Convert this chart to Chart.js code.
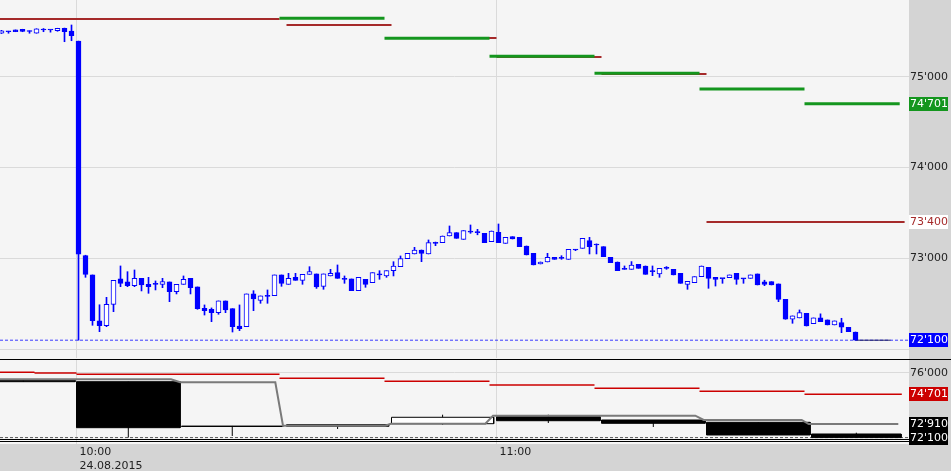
<!DOCTYPE html>
<html>
<head>
<meta charset="utf-8">
<script src="https://cdn.jsdelivr.net/npm/chart.js@4.4.0/dist/chart.umd.min.js"></script>
<style>
  html, body { margin: 0; padding: 0; background: #d4d4d4; }
  #wrap { position: relative; width: 951px; height: 471px; overflow: hidden; }
  #top { position: absolute; left: 0; top: 0; }
  #bottom { position: absolute; left: 0; top: 358px; }
</style>
</head>
<body>
<div id="wrap">
  <canvas id="top" width="951" height="358"></canvas>
  <canvas id="bottom" width="951" height="113"></canvas>
</div>
<script>
// 1-minute candles, 24.08.2015, first candle 09:49 (minutes since midnight)
const FIRST_MINUTE = 589;

const OPEN = [
  75480, 75495, 75515, 75520, 75505, 75478, 75514, 75514, 75506, 75533,
  75503, 75393, 73030, 72818, 72312, 72260, 72495, 72774, 72741, 72700,
  72781, 72715, 72715, 72715, 72741, 72634, 72715, 72781, 72686, 72451,
  72440, 72403, 72532, 72447, 72256, 72249, 72609, 72539, 72594, 72590,
  72818, 72715, 72792, 72759, 72825, 72829, 72693, 72807, 72843, 72770,
  72774, 72645, 72770, 72733, 72818, 72807, 72865, 72909, 72997, 73049,
  73093, 73049, 73166, 73173, 73247, 73284, 73210, 73302, 73284, 73276,
  73184, 73287, 73166, 73239, 73232, 73137, 73056, 72939, 72961, 73012,
  73000, 72990, 73093, 73111, 73195, 73148, 73129, 73012, 72961, 72880,
  72880, 72935, 72917, 72854, 72829, 72891, 72880, 72836, 72715, 72733,
  72799, 72902, 72792, 72777, 72788, 72836, 72774, 72781, 72829, 72741,
  72744, 72719, 72550, 72330, 72345, 72396, 72282, 72345, 72323, 72268,
  72293, 72242, 72190
];
const HIGH = [
  75510, 75500, 75515, 75522, 75505, 75528, 75530, 75516, 75533, 75535,
  75569, 75393, 73035, 72818, 72490, 72572, 72759, 72917, 72854, 72873,
  72781, 72792, 72752, 72781, 72741, 72715, 72807, 72781, 72686, 72488,
  72455, 72532, 72532, 72447, 72488, 72609, 72645, 72587, 72653, 72818,
  72818, 72836, 72836, 72825, 72909, 72829, 72829, 72880, 72928, 72807,
  72774, 72792, 72770, 72843, 72865, 72865, 72964, 73027, 73056, 73122,
  73093, 73203, 73180, 73247, 73357, 73284, 73306, 73368, 73320, 73276,
  73302, 73379, 73232, 73239, 73232, 73137, 73056, 72961, 73056, 73012,
  73030, 73100, 73100, 73221, 73232, 73160, 73129, 73012, 72961, 72917,
  72965, 72935, 72917, 72917, 72891, 72910, 72880, 72836, 72748, 72799,
  72917, 72902, 72792, 72780, 72818, 72836, 72780, 72818, 72829, 72760,
  72744, 72719, 72550, 72367, 72433, 72396, 72345, 72390, 72323, 72312,
  72341, 72242, 72190
];
const LOW = [
  75475, 75478, 75495, 75495, 75478, 75478, 75495, 75490, 75500, 75385,
  75396, 72100, 72792, 72264, 72194, 72249, 72414, 72689, 72689, 72689,
  72642, 72616, 72653, 72678, 72524, 72609, 72715, 72609, 72440, 72377,
  72304, 72385, 72403, 72190, 72205, 72249, 72425, 72506, 72506, 72590,
  72693, 72715, 72759, 72715, 72825, 72670, 72660, 72807, 72781, 72726,
  72645, 72645, 72682, 72733, 72770, 72792, 72807, 72909, 72997, 73049,
  72964, 73049, 73140, 73173, 73247, 73221, 73210, 73276, 73260, 73173,
  73184, 73173, 73166, 73214, 73129, 73038, 72928, 72939, 72961, 72990,
  72990, 72990, 73085, 73111, 73049, 73049, 73019, 72953, 72865, 72880,
  72880, 72891, 72825, 72810, 72792, 72880, 72818, 72726, 72660, 72733,
  72799, 72671, 72696, 72726, 72788, 72715, 72726, 72781, 72708, 72700,
  72708, 72524, 72330, 72286, 72345, 72256, 72282, 72304, 72268, 72268,
  72183, 72194, 72100
];
const CLOSE = [
  75505, 75495, 75495, 75497, 75497, 75528, 75514, 75514, 75533, 75495,
  75451, 73046, 72825, 72315, 72260, 72495, 72759, 72726, 72700, 72781,
  72708, 72689, 72715, 72744, 72634, 72715, 72770, 72678, 72447, 72425,
  72403, 72532, 72433, 72249, 72227, 72609, 72554, 72587, 72583, 72818,
  72726, 72781, 72759, 72825, 72854, 72686, 72829, 72836, 72781, 72770,
  72645, 72792, 72715, 72843, 72818, 72865, 72917, 72997, 73056, 73093,
  73056, 73173, 73166, 73247, 73284, 73221, 73306, 73290, 73284, 73173,
  73302, 73173, 73232, 73214, 73129, 73038, 72928, 72961, 73012, 72990,
  73000, 73100, 73093, 73221, 73129, 73148, 73019, 72953, 72865, 72880,
  72928, 72891, 72825, 72854, 72891, 72891, 72818, 72726, 72748, 72799,
  72917, 72781, 72770, 72777, 72818, 72770, 72774, 72818, 72708, 72715,
  72708, 72550, 72330, 72367, 72403, 72256, 72345, 72304, 72268, 72312,
  72242, 72194, 72100
];

// 15-minute level lines in the price panel
const GREEN_START = [629, 644, 659, 674, 689, 704];
const GREEN_END   = [644, 659, 674, 689, 704, 717.6];
const GREEN_LEVEL = [75642, 75422, 75224, 75037, 74865, 74701];
const RED_START = [585, 630, 645, 660, 675, 690];
const RED_END   = [629, 645, 660, 675, 690, 718.3];
const RED_LEVEL = [75634, 75568, 75425, 75216, 75030, 73400];

// lower panel: 15-minute bars
const BAR_START = [585, 600, 615, 630, 645, 660, 675, 690, 705];
const BAR_END   = [599.8, 614.8, 629.5, 644.6, 659.6, 674.8, 689.8, 704.8, 717.8];
const BAR_OPEN  = [75543, 75459, 72790, 72779, 72935, 73356, 73157, 73019, 72316];
const BAR_HIGH  = [75560, 75459, 72800, 72880, 73476, 73476, 73157, 73019, 72394];
const BAR_LOW   = [75440, 72100, 72196, 72616, 72857, 72977, 72737, 72256, 72100];
const BAR_CLOSE = [75459, 72695, 72770, 72875, 73320, 73115, 72959, 72256, 72100];

// lower panel: grey line and red step line
const GRAY_TIME  = [585, 613.5, 614.8, 628.4, 629.5, 644.1, 644.9, 658.4, 659.5, 688.4, 689.6, 703.6, 704.6, 717.4];
const GRAY_VALUE = [75603, 75603, 75423, 75423, 72815, 72815, 72935, 72935, 73416, 73416, 73157, 73157, 72910, 72910];
const LOW_RED_START = [585, 594, 600, 629, 644, 659, 674, 689, 704];
const LOW_RED_END   = [594, 600, 629, 644, 659, 674, 689, 704, 717.9];
const LOW_RED_LEVEL = [76024, 75982, 75904, 75663, 75483, 75261, 75062, 74882, 74701];

// axes
const X_TICKS = [600, 660];
const X_TICK_LABELS = [['10:00', '24.08.2015'], ['11:00']];
const TOP_TICKS = [72000, 73000, 74000, 75000];
const LOW_TICKS = [76000];

// ---------- layout constants ----------
const X_MIN = 589 + 0.5 / 7;
const X_MAX = X_MIN + 909 / 7;
const CANDLE_SHIFT = 2 / 7;
const TOP_MIN = 71904, TOP_MAX = 75844;
const LOW_MIN = 71715, LOW_MAX = 76763;

const BLUE = '#0000ff';
const GREEN = '#14961e';
const DARK_RED = '#a52a2a';
const RED = '#cc0000';
const GRID = '#dadada';
const FONT = { family: '"DejaVu Sans", Verdana, sans-serif', size: 11 };

const fmtPrice = (v) => String(Math.round(v)).replace(/\B(?=(\d{3})+(?!\d))/g, "'");

function steps(starts, ends, levels) {
  const pts = [];
  starts.forEach((s, i) => {
    pts.push({ x: s, y: levels[i] }, { x: ends[i], y: levels[i] }, { x: ends[i], y: null });
  });
  return pts;
}

function noPadding(s) {
  s.paddingTop = 0; s.paddingBottom = 0; s.paddingLeft = 0; s.paddingRight = 0;
}

// ---------- plugins ----------
const panelPlugin = {
  id: 'panel',
  beforeDraw(chart, args, opts) {
    const { ctx, chartArea: a, width, height } = chart;
    ctx.save();
    ctx.fillStyle = '#d4d4d4';
    ctx.fillRect(0, 0, width, height);
    ctx.fillStyle = '#f5f5f5';
    ctx.fillRect(0, 0, a.right, a.bottom);
    ctx.restore();
  },
  afterDatasetsDraw(chart, args, opts) {
    const { ctx, chartArea: a, width } = chart;
    ctx.save();
    ctx.fillStyle = '#000';
    for (const y of opts.fullLines || []) ctx.fillRect(0, y, width, 1);
    for (const y of opts.areaLines || []) ctx.fillRect(0, y, a.right, 1);
    ctx.restore();
  }
};

const badgePlugin = {
  id: 'badges',
  afterDraw(chart, args, opts) {
    const { ctx, chartArea: a } = chart;
    const yScale = chart.scales.y;
    ctx.save();
    ctx.font = '11px "DejaVu Sans"';
    ctx.textBaseline = 'middle';
    ctx.textAlign = 'left';
    for (const b of opts.items || []) {
      const py = Math.round(yScale.getPixelForValue(b.value));
      ctx.fillStyle = b.bg;
      ctx.fillRect(a.right, py - 7, 39, 14);
      ctx.fillStyle = b.fg;
      ctx.fillText(fmtPrice(b.value), a.right + 1, py + 0.5);
    }
    ctx.restore();
  }
};

Chart.register(panelPlugin, badgePlugin);

function xScale(showLabels) {
  return {
    type: 'linear', min: X_MIN, max: X_MAX, offset: false,
    afterBuildTicks: (s) => { s.ticks = X_TICKS.map(v => ({ value: v })); },
    afterFit: (s) => { s.height = showLabels ? 27 : 0; noPadding(s); },
    grid: { color: GRID, offset: false, drawTicks: false },
    border: { display: false },
    ticks: {
      display: showLabels, autoSkip: false, maxRotation: 0, align: 'start',
      labelOffset: 3, padding: 2, color: '#222', font: FONT,
      callback: (v) => X_TICK_LABELS[X_TICKS.indexOf(v)] || ''
    }
  };
}

function yScale(min, max, ticks) {
  return {
    type: 'linear', position: 'right', min, max, stacked: false,
    afterBuildTicks: (s) => { s.ticks = ticks.map(v => ({ value: v })); },
    afterFit: (s) => { s.width = 42; noPadding(s); },
    grid: { color: GRID, drawTicks: false },
    border: { display: false },
    ticks: {
      padding: 1, color: '#222', font: FONT,
      callback: (v) => (v === 72000 ? '' : fmtPrice(v))
    }
  };
}

// ---------- top panel: candles ----------
const candleX = OPEN.map((_, i) => FIRST_MINUTE + i + CANDLE_SHIFT);
const lastX = candleX[candleX.length - 1];
const lastClose = CLOSE[CLOSE.length - 1];

new Chart(document.getElementById('top'), {
  type: 'bar',
  data: {
    datasets: [
      {
        type: 'line', order: 0,
        data: steps(GREEN_START, GREEN_END, GREEN_LEVEL),
        borderColor: GREEN, borderWidth: 3, pointRadius: 0, spanGaps: false
      },
      {
        type: 'line', order: 1,
        data: steps(RED_START, RED_END, RED_LEVEL),
        borderColor: DARK_RED, borderWidth: 2, pointRadius: 0, spanGaps: false
      },
      {
        order: 2, grouped: false, barThickness: 5, minBarLength: 1,
        data: OPEN.map((o, i) => ({ x: candleX[i], y: [o, CLOSE[i]] })),
        backgroundColor: (c) => (CLOSE[c.dataIndex] > OPEN[c.dataIndex] ? '#ffffff' : BLUE),
        borderColor: BLUE, borderWidth: 1, borderSkipped: false
      },
      {
        order: 3, grouped: false, barThickness: 1,
        data: LOW.map((l, i) => ({ x: candleX[i], y: [l, HIGH[i]] })),
        backgroundColor: BLUE, borderWidth: 0
      },
      {
        type: 'line', order: 4,
        data: [{ x: lastX, y: lastClose }, { x: lastX + 5, y: lastClose }],
        borderColor: '#202060', borderWidth: 1, pointRadius: 0
      },
      {
        type: 'line', order: 5,
        data: [{ x: X_MIN, y: lastClose }, { x: X_MAX, y: lastClose }],
        borderColor: '#3a3aff', borderWidth: 1, borderDash: [3, 2], pointRadius: 0
      }
    ]
  },
  options: {
    responsive: false, animation: false, events: [],
    layout: { padding: 0 },
    scales: { x: xScale(false), y: yScale(TOP_MIN, TOP_MAX, TOP_TICKS) },
    plugins: {
      legend: { display: false }, tooltip: { enabled: false },
      panel: {},
      badges: {
        items: [
          { value: GREEN_LEVEL[GREEN_LEVEL.length - 1], bg: GREEN, fg: '#ffffff' },
          { value: RED_LEVEL[RED_LEVEL.length - 1], bg: '#ffffff', fg: DARK_RED },
          { value: lastClose, bg: BLUE, fg: '#ffffff' }
        ]
      }
    }
  }
});

// ---------- lower panel: 15-minute bars ----------
const boxSets = BAR_START.map((s, i) => {
  const e = BAR_END[i];
  const lo = Math.min(BAR_OPEN[i], BAR_CLOSE[i]);
  const hi = Math.max(BAR_OPEN[i], BAR_CLOSE[i]);
  const up = BAR_CLOSE[i] > BAR_OPEN[i];
  return {
    order: 2,
    data: [{ x: s, y: lo }, { x: s, y: hi }, { x: e, y: hi }, { x: e, y: lo }, { x: s, y: lo }],
    borderColor: '#000', borderWidth: 1, pointRadius: 0,
    backgroundColor: up ? '#ffffff' : '#000000', fill: 'shape'
  };
});

const wickPts = [];
BAR_START.forEach((s, i) => {
  const mid = (s + BAR_END[i]) / 2;
  wickPts.push({ x: mid, y: BAR_LOW[i] }, { x: mid, y: BAR_HIGH[i] }, { x: mid, y: null });
});

new Chart(document.getElementById('bottom'), {
  type: 'line',
  data: {
    datasets: [
      {
        order: 0,
        data: steps(LOW_RED_START, LOW_RED_END, LOW_RED_LEVEL),
        borderColor: RED, borderWidth: 1.5, pointRadius: 0, spanGaps: false
      },
      ...boxSets,
      {
        order: 3,
        data: wickPts, borderColor: '#000', borderWidth: 1, pointRadius: 0, spanGaps: false
      },
      {
        order: 1,
        data: GRAY_TIME.map((t, i) => ({ x: t, y: GRAY_VALUE[i] })),
        borderColor: '#7a7a7a', borderWidth: 2, pointRadius: 0
      },
      {
        order: 4,
        data: [{ x: X_MIN, y: lastClose }, { x: X_MAX, y: lastClose }],
        borderColor: '#555', borderWidth: 1, borderDash: [3, 2], pointRadius: 0
      }
    ]
  },
  options: {
    responsive: false, animation: false, events: [],
    layout: { padding: { top: 2 } },
    scales: { x: xScale(true), y: yScale(LOW_MIN, LOW_MAX, LOW_TICKS) },
    plugins: {
      legend: { display: false }, tooltip: { enabled: false },
      panel: { fullLines: [1], areaLines: [81, 83] },
      badges: {
        items: [
          { value: LOW_RED_LEVEL[LOW_RED_LEVEL.length - 1], bg: RED, fg: '#ffffff' },
          { value: GRAY_VALUE[GRAY_VALUE.length - 1], bg: '#000000', fg: '#ffffff' },
          { value: lastClose, bg: '#000000', fg: '#ffffff' }
        ]
      }
    }
  }
});
</script>
</body>
</html>
